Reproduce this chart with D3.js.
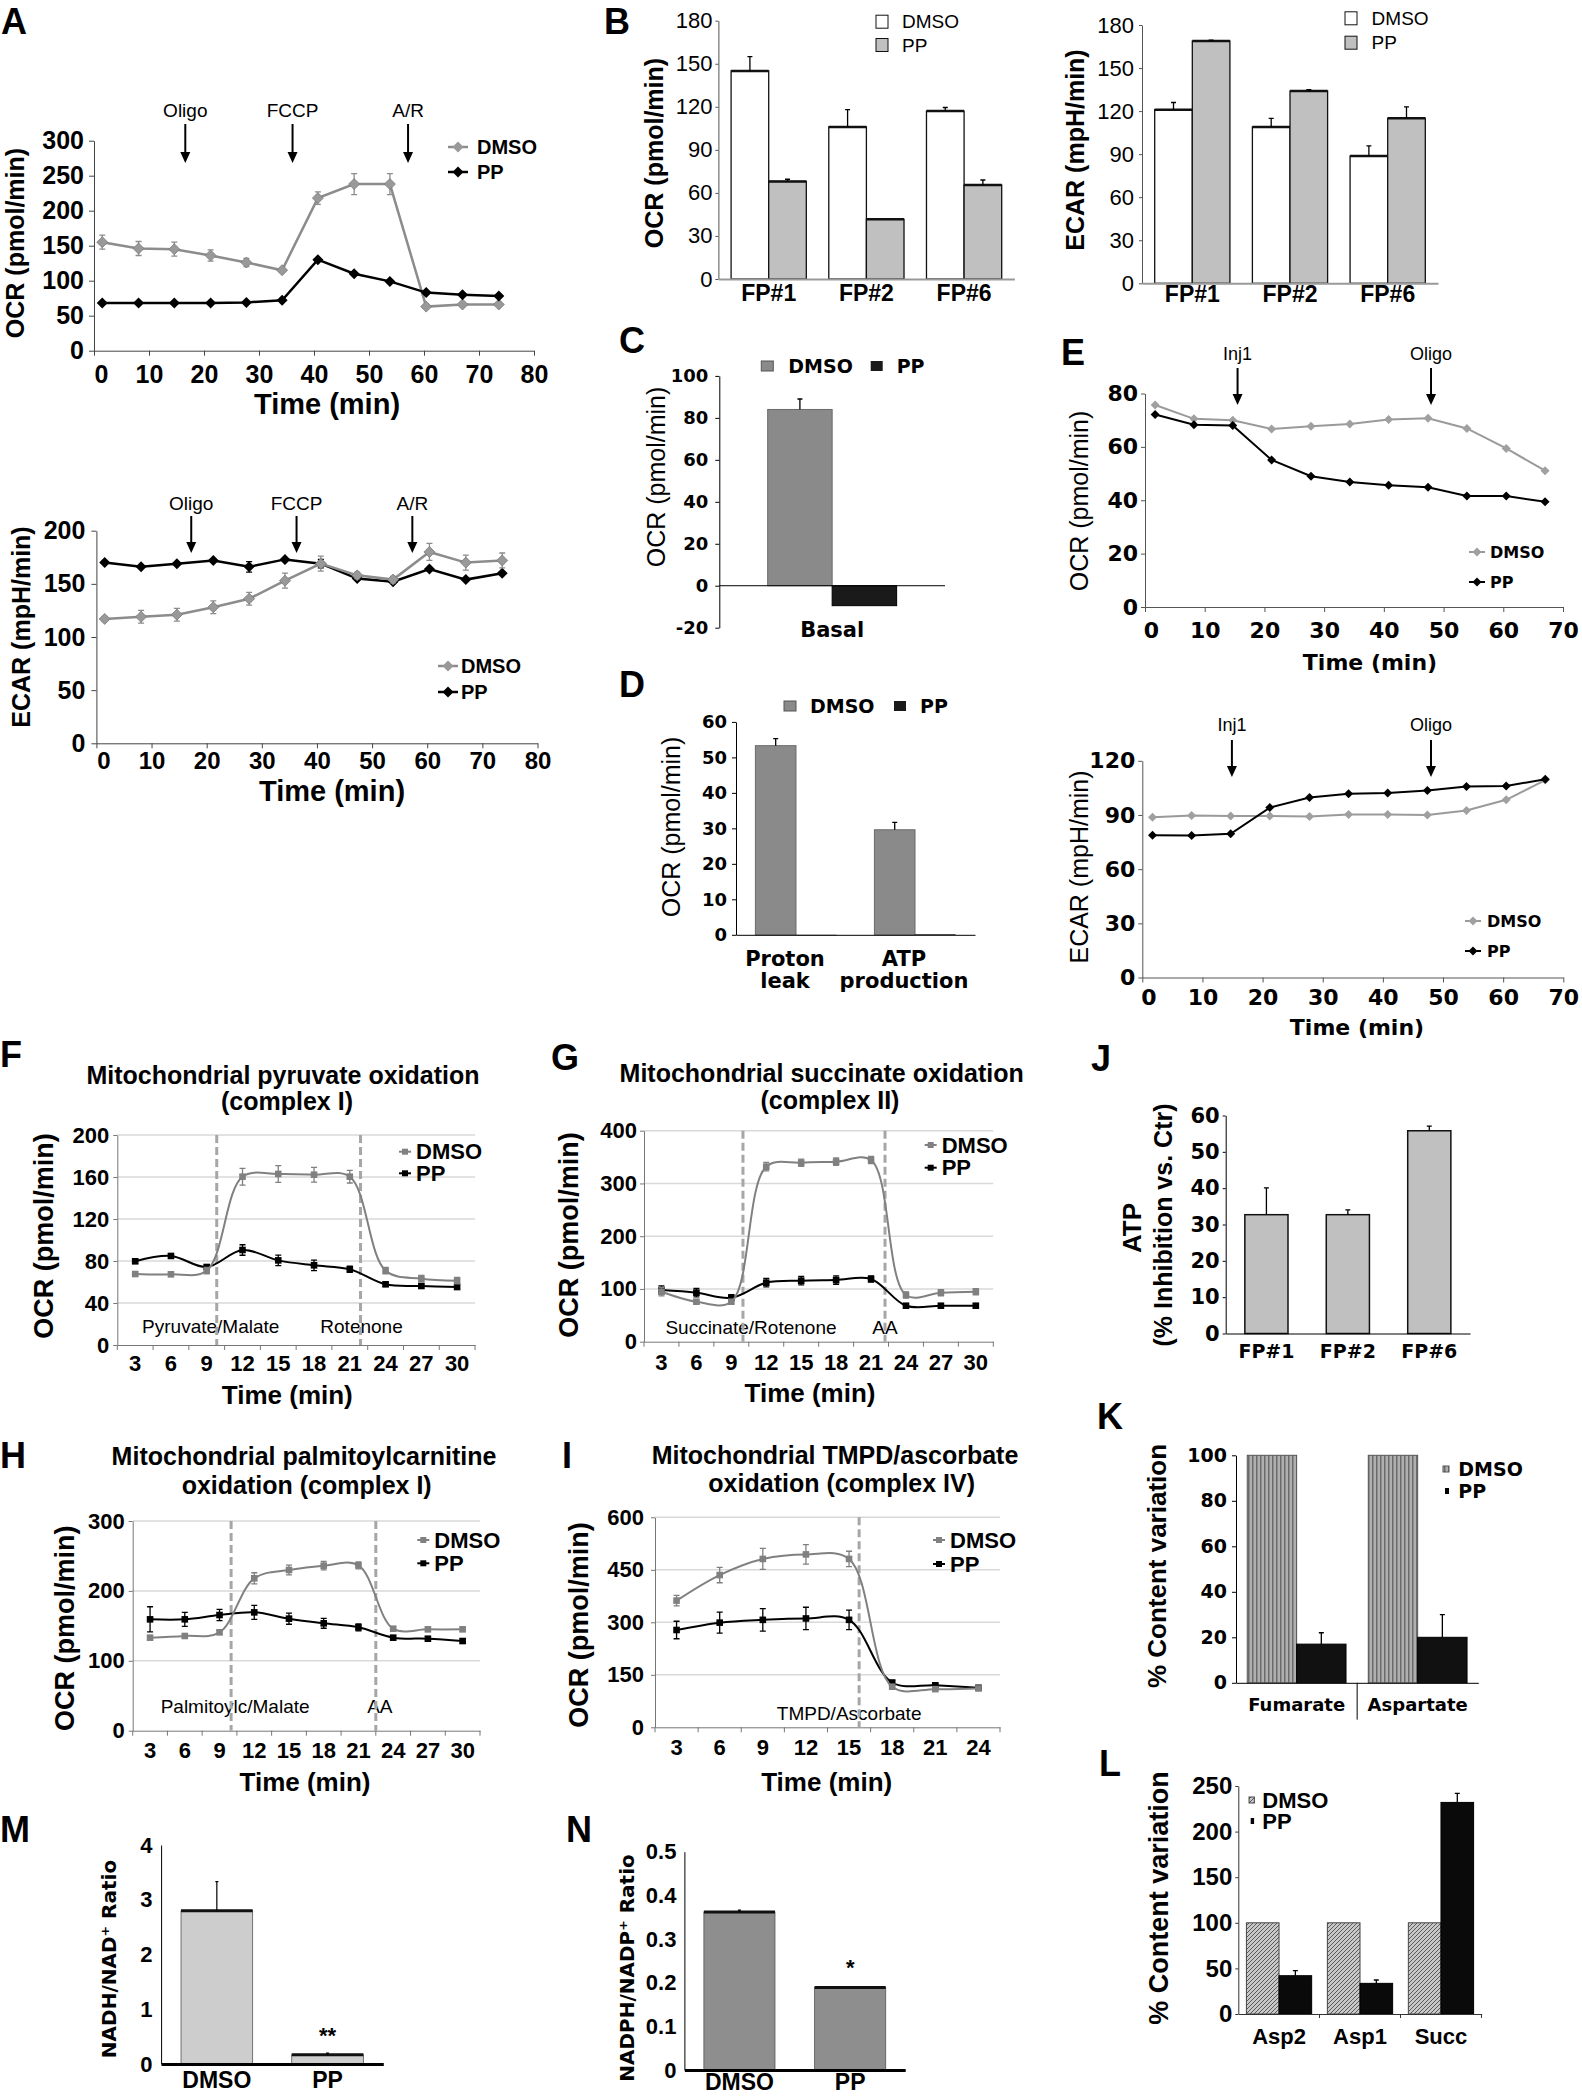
<!DOCTYPE html>
<html><head><meta charset="utf-8">
<script src="https://cdn.jsdelivr.net/npm/d3@7/dist/d3.min.js"></script>
<style>html,body{margin:0;padding:0;background:#fff}svg{display:block}</style>
</head><body>
<script>
// ================= DATA =================
const SERIES = ["DMSO", "PP"];
// Panel A
const A_time = [1.5, 8.1, 14.6, 21.2, 27.7, 34.2, 40.7, 47.3, 53.8, 60.4, 67.0, 73.6];
const A_injections = ["Oligo", "FCCP", "A/R"];
const A_ocr_inj_time = [16.6, 36.1, 57.1];
const A_ecar_inj_time = [17.2, 36.3, 57.3];
const A_ocr_dmso = [155, 146, 145, 136, 126, 115, 218, 238, 238, 63, 66, 66];
const A_ocr_dmso_err = [10, 10, 10, 8, 6, 3, 9, 15, 15, 2, 3, 2];
const A_ocr_pp = [68, 68, 68, 68, 69, 72, 130, 110, 99, 83, 80, 78];
const A_ecar_dmso = [117, 119, 121, 128, 136, 153, 169, 158, 154, 180, 170, 172];
const A_ecar_dmso_err = [2, 6, 6, 6, 6, 7, 7, 3, 3, 8, 7, 7];
const A_ecar_pp = [170, 166, 169, 172, 166, 173, 169, 155, 152, 164, 154, 160];
const A_ecar_pp_err = [0, 0, 0, 0, 5, 0, 4, 0, 0, 0, 0, 0];
// Panel B
const B_categories = ["FP#1", "FP#2", "FP#6"];
const B_ocr_dmso = [145, 106, 117];
const B_ocr_dmso_err = [10, 12, 2.5];
const B_ocr_pp = [68, 41.6, 65.5];
const B_ocr_pp_err = [1.5, 0, 3.5];
const B_ecar_dmso = [121, 109, 88.7];
const B_ecar_dmso_err = [5, 6, 7];
const B_ecar_pp = [168.8, 134, 115];
const B_ecar_pp_err = [0.7, 1, 8];
// Panel C
const C_categories = ["Basal"];
const C_dmso = [84];
const C_dmso_err = [5];
const C_pp = [-9.5];
// Panel D
const D_categories = ["Proton leak", "ATP production"];
const D_dmso = [53.3, 29.6];
const D_dmso_err = [2, 2.1];
const D_pp = [0, 0.2];
// Panel E
const E_time = [1.7, 8.2, 14.7, 21.2, 27.8, 34.3, 40.8, 47.4, 53.9, 60.5, 67.0];
const E_injections = ["Inj1", "Oligo"];
const E_ocr_inj_time = [15.5, 47.9];
const E_ecar_inj_time = [14.9, 48.0];
const E_ocr_dmso = [75.7, 70.5, 70.0, 66.7, 67.7, 68.6, 70.3, 70.7, 66.9, 59.4, 51.1];
const E_ocr_pp = [72.1, 68.3, 68.0, 55.1, 49.0, 46.8, 45.6, 44.9, 41.6, 41.6, 39.4];
const E_ecar_dmso = [88.7, 89.7, 89.5, 89.5, 89.2, 90.3, 90.3, 90.0, 92.5, 98.4, 109.3];
const E_ecar_pp = [78.8, 78.6, 79.6, 94.1, 99.7, 101.7, 102.2, 103.5, 105.8, 106.0, 109.8];
// Panel F
const F_time = ["3", "6", "9", "12", "15", "18", "21", "24", "27", "30"];
const F_dmso = [67.6, 67.3, 70.8, 160.3, 162.9, 162.2, 160.3, 70.8, 63.2, 61.3];
const F_dmso_err = [2, 2, 3, 8, 8, 7, 6, 3, 3, 3];
const F_pp = [79.7, 84.8, 74.3, 90.5, 80.6, 75.9, 72.1, 57.8, 56.2, 55.2];
const F_pp_err = [2, 2, 2, 5, 5, 5, 3, 2, 2, 2];
const F_injections = ["Pyruvate/Malate", "Rotenone"];
const F_inj_time = [9.84, 21.9];
// Panel G
const G_time = ["3", "6", "9", "12", "15", "18", "21", "24", "27", "30"];
const G_dmso = [94.8, 75.8, 75.8, 331.8, 339.3, 341.2, 344.4, 88.5, 92.9, 94.8];
const G_dmso_err = [8, 4, 4, 8, 7, 7, 7, 6, 6, 6];
const G_pp = [97.9, 92.9, 83.4, 111.8, 115.6, 116.9, 118.8, 68.2, 68.2, 68.2];
const G_pp_err = [8, 8, 6, 8, 8, 8, 6, 4, 4, 4];
const G_injections = ["Succinate/Rotenone", "AA"];
const G_inj_time = [10.0, 22.2];
// Panel H
const H_time = ["3", "6", "9", "12", "15", "18", "21", "24", "27", "30"];
const H_dmso = [133.1, 135.5, 140.7, 218, 229.9, 236.1, 236.6, 145.9, 145, 145];
const H_dmso_err = [3, 3, 3, 8, 7, 6, 5, 3, 3, 3];
const H_pp = [159.3, 159.3, 165.5, 169.3, 160.3, 153.6, 147.9, 133.1, 131.6, 128.3];
const H_pp_err = [18, 10, 8, 10, 8, 7, 5, 3, 3, 3];
const H_injections = ["Palmitoylc/Malate", "AA"];
const H_inj_time = [10.0, 22.5];
// Panel I
const I_time = ["3", "6", "9", "12", "15", "18", "21", "24"];
const I_dmso = [362, 435, 481, 494, 481, 116, 109, 111];
const I_dmso_err = [15, 22, 30, 28, 22, 5, 5, 5];
const I_pp = [278, 299, 307, 311, 307, 128, 120, 113];
const I_pp_err = [25, 30, 32, 32, 28, 5, 5, 5];
const I_injections = ["TMPD/Ascorbate"];
const I_inj_time = [15.7];
// Panel J
const J_categories = ["FP#1", "FP#2", "FP#6"];
const J_atp = [32.7, 32.7, 55.8];
const J_atp_err = [7.4, 1.3, 1.3];
// Panel K
const K_categories = ["Fumarate", "Aspartate"];
const K_dmso = [100, 100];
const K_pp = [17, 20];
const K_pp_err = [5, 10];
// Panel L
const L_categories = ["Asp2", "Asp1", "Succ"];
const L_dmso = [100, 100, 100];
const L_pp = [42, 33.6, 232];
const L_pp_err = [5.5, 3.7, 10];
// Panel M
const M_categories = ["DMSO", "PP"];
const M_ratio = [2.80, 0.17];
const M_ratio_err = [0.53, 0.03];
const M_sig = ["", "**"];
// Panel N
const N_categories = ["DMSO", "PP"];
const N_ratio = [0.362, 0.189];
const N_ratio_err = [0.004, 0];
const N_sig = ["", "*"];

// ================= DRAWING =================
const W = 1582, H = 2098;
const AR = "'Liberation Sans', Arial, Helvetica, sans-serif";
const VD = "'DejaVu Sans', Verdana, sans-serif";
const svg = d3.select("body").append("svg").attr("width", W).attr("height", H);
svg.append("rect").attr("width", W).attr("height", H).attr("fill", "#fff");
const defs = svg.append("defs");
const pv = defs.append("pattern").attr("id", "vstripe").attr("width", 4).attr("height", 4).attr("patternUnits", "userSpaceOnUse");
pv.append("rect").attr("width", 4).attr("height", 4).attr("fill", "#b0b0b0");
pv.append("rect").attr("width", 1.5).attr("height", 4).attr("fill", "#6a6a6a");
const ph = defs.append("pattern").attr("id", "hatch").attr("width", 4).attr("height", 4).attr("patternUnits", "userSpaceOnUse");
ph.append("rect").attr("width", 4).attr("height", 4).attr("fill", "#c8c8c8");
ph.append("path").attr("d", "M-1,1l2,-2M0,4l4,-4M3,5l2,-2").attr("stroke", "#5a5a5a").attr("stroke-width", 1);

function T(g, x, y, s, o = {}) {
  const t = g.append("text").attr("x", x).attr("y", y)
    .attr("font-family", o.ff || AR).attr("font-size", o.fs || 20)
    .attr("font-weight", o.fw || "normal").attr("fill", o.fill || "#000")
    .attr("text-anchor", o.anchor || "middle")
    .attr("dy", o.dy === undefined ? "0.35em" : o.dy)
    .text(s);
  if (o.rot) t.attr("transform", `rotate(${o.rot},${x},${y})`);
  return t;
}
function styleAxis(a, o) {
  a.select(".domain").attr("stroke", o.color || "#000").attr("stroke-width", o.sw || 1);
  a.selectAll(".tick line").attr("stroke", o.color || "#000").attr("stroke-width", o.tw || 1);
  a.selectAll(".tick text").attr("font-family", o.ff || AR).attr("font-size", o.fs || 20)
    .attr("font-weight", o.fw || "bold").attr("fill", "#000");
  if (o.zeroDx) a.selectAll(".tick text").filter(d => d === 0).attr("dx", o.zeroDx);
  if (o.noText) a.selectAll(".tick text").remove();
  return a;
}
function axisL(g, y, x0, o) {
  const ax = d3.axisLeft(y).tickValues(o.ticks).tickSize(o.size ?? 4).tickSizeOuter(0).tickPadding(o.pad ?? 4)
    .tickFormat(o.fmt || (d => String(d)));
  return styleAxis(g.append("g").attr("transform", `translate(${x0},0)`).call(ax), o);
}
function axisB(g, x, y0, o) {
  const ax = d3.axisBottom(x).tickSize(o.size ?? 4).tickSizeOuter(0).tickPadding(o.pad ?? 4);
  if (o.ticks) ax.tickValues(o.ticks);
  if (o.fmt) ax.tickFormat(o.fmt);
  return styleAxis(g.append("g").attr("transform", `translate(0,${y0})`).call(ax), o);
}
const diamond = r => `M0,${-r}L${r},0L0,${r}L${-r},0Z`;
const square = r => `M${-r},${-r}h${2 * r}v${2 * r}h${-2 * r}Z`;
function letter(s, x, y) { T(svg, x, y, s, {fs: 36, fw: "bold", anchor: "start", dy: 0}); }
function arrow(g, x, y1, y2) {
  g.append("line").attr("x1", x).attr("x2", x).attr("y1", y1).attr("y2", y2 - 8).attr("stroke", "#000").attr("stroke-width", 2);
  g.append("path").attr("d", `M${x - 5},${y2 - 11}L${x + 5},${y2 - 11}L${x},${y2}Z`).attr("fill", "#000");
}
function series(g, xs, ys, errs, o) {
  const pts = ys.map((v, i) => [xs(i), o.y(v)]);
  if (errs) ys.forEach((v, i) => {
    const e = errs[i]; if (!e) return;
    const cx = xs(i), y1 = o.y(v + e), y2 = o.y(v - e), cw = o.cap || 3;
    g.append("path").attr("d", `M${cx},${y1}V${y2}M${cx - cw},${y1}h${2 * cw}M${cx - cw},${y2}h${2 * cw}`)
      .attr("stroke", o.ecolor || o.color).attr("stroke-width", 1.3).attr("fill", "none");
  });
  const line = d3.line().curve(o.curve || d3.curveLinear);
  g.append("path").attr("d", line(pts)).attr("fill", "none").attr("stroke", o.color).attr("stroke-width", o.sw || 2);
  g.selectAll(null).data(pts).join("path").attr("d", o.shape === "sq" ? square(o.r) : diamond(o.r))
    .attr("transform", d => `translate(${d[0]},${d[1]})`).attr("fill", o.mfill || o.color)
    .attr("stroke", o.mstroke || "none").attr("stroke-width", 0.8);
}
function lineLegend(g, mx, tx, y, label, o) {
  g.append("line").attr("x1", mx - (o.half || 10)).attr("x2", mx + (o.half || 10)).attr("y1", y).attr("y2", y)
    .attr("stroke", o.color).attr("stroke-width", o.sw || 2);
  g.append("path").attr("d", o.shape === "sq" ? square(o.r) : diamond(o.r)).attr("transform", `translate(${mx},${y})`)
    .attr("fill", o.mfill || o.color);
  T(g, tx, y, label, {fs: o.fs, fw: "bold", anchor: "start", ff: o.ff || AR});
}
function boxLegend(g, cx, cy, w, h, fill, stroke, tx, label, o) {
  g.append("rect").attr("x", cx - w / 2).attr("y", cy - h / 2).attr("width", w).attr("height", h)
    .attr("fill", fill).attr("stroke", stroke || "none").attr("stroke-width", 1);
  T(g, tx, cy, label, {fs: o.fs, fw: o.fw || "bold", anchor: "start", ff: o.ff || AR});
}
function bars(g, cfg) {
  const x0 = d3.scaleBand().domain(cfg.cats).range(cfg.xr).paddingInner(cfg.pin).paddingOuter(cfg.pout);
  const x1 = d3.scaleBand().domain(d3.range(cfg.series.length)).range([0, x0.bandwidth()]);
  cfg.series.forEach((s, si) => {
    cfg.cats.forEach((c, ci) => {
      const v = s.vals[ci];
      const bx = x0(c) + x1(si), bw = x1.bandwidth();
      const y0 = cfg.y(0), yv = cfg.y(v);
      g.append("rect").attr("x", bx).attr("y", Math.min(y0, yv)).attr("width", bw).attr("height", Math.max(Math.abs(y0 - yv), 0.5))
        .attr("fill", s.fill).attr("stroke", s.stroke || "none").attr("stroke-width", s.sw || 1);
      if (s.top) g.append("line").attr("x1", bx).attr("x2", bx + bw).attr("y1", yv).attr("y2", yv)
        .attr("stroke", s.top).attr("stroke-width", s.topw || 2.5);
      if (s.err && s.err[ci]) {
        const cx = bx + bw / 2, ye = cfg.y(v + s.err[ci]), cw = s.cap || 2.5;
        g.append("path").attr("d", `M${cx},${yv}V${ye}M${cx - cw},${ye}h${2 * cw}`)
          .attr("stroke", s.ecolor || "#000").attr("stroke-width", s.ew || 1.3).attr("fill", "none");
      }
    });
  });
  return x0;
}

// ---------- Panel A ----------
letter("A", 1, 34);
(function () {
  const g = svg.append("g");
  const x = d3.scaleLinear().domain([0, 80]).range([94, 534]);
  const y = d3.scaleLinear().domain([0, 300]).range([350.7, 140.7]);
  axisL(g, y, 94, {ticks: d3.range(0, 301, 50), size: 5, pad: 5, fs: 25, color: "#444"});
  axisB(g, x, 350.7, {ticks: d3.range(0, 81, 10), size: 5, pad: 10, fs: 25, color: "#444", zeroDx: 7});
  T(g, 15, 243, "OCR (pmol/min)", {fs: 25, fw: "bold", rot: -90});
  T(g, 327, 404, "Time (min)", {fs: 29, fw: "bold"});
  A_ocr_inj_time.forEach((t, i) => { T(g, x(t), 110, A_injections[i], {fs: 19}); arrow(g, x(t), 124, 163); });
  series(g, i => x(A_time[i]), A_ocr_dmso, A_ocr_dmso_err, {y, color: "#8c8c8c", ecolor: "#8c8c8c", sw: 2.5, r: 5.5, mfill: "#999", mstroke: "#7a7a7a"});
  series(g, i => x(A_time[i]), A_ocr_pp, null, {y, color: "#000", sw: 2.5, r: 5.5});
  lineLegend(g, 458, 477, 147, SERIES[0], {color: "#8c8c8c", mfill: "#999", r: 5.5, fs: 20, sw: 2.5});
  lineLegend(g, 458, 477, 172, SERIES[1], {color: "#000", r: 5.5, fs: 20, sw: 2.5});
})();
(function () {
  const g = svg.append("g");
  const x = d3.scaleLinear().domain([0, 80]).range([96.4, 537.5]);
  const y = d3.scaleLinear().domain([0, 200]).range([743.3, 530.7]);
  axisL(g, y, 96.4, {ticks: d3.range(0, 201, 50), size: 5, pad: 6, fs: 25, color: "#444"});
  axisB(g, x, 743.3, {ticks: d3.range(0, 81, 10), size: 5, pad: 4, fs: 24, color: "#444", zeroDx: 7});
  T(g, 21, 627, "ECAR (mpH/min)", {fs: 25, fw: "bold", rot: -90});
  T(g, 332, 791, "Time (min)", {fs: 29, fw: "bold"});
  A_ecar_inj_time.forEach((t, i) => { T(g, x(t), 503, A_injections[i], {fs: 19}); arrow(g, x(t), 516, 553); });
  series(g, i => x(A_time[i]), A_ecar_pp, A_ecar_pp_err, {y, color: "#000", sw: 2.5, r: 5.5});
  series(g, i => x(A_time[i]), A_ecar_dmso, A_ecar_dmso_err, {y, color: "#8c8c8c", sw: 2.5, r: 5.5, mfill: "#999", mstroke: "#7a7a7a"});
  lineLegend(g, 448, 461, 666, SERIES[0], {color: "#8c8c8c", mfill: "#999", r: 5.5, fs: 20, sw: 2.5});
  lineLegend(g, 448, 461, 692, SERIES[1], {color: "#000", r: 5.5, fs: 20, sw: 2.5});
})();

// ---------- Panel B ----------
letter("B", 604, 34);
function panelB(cfg) {
  const g = svg.append("g");
  const y = d3.scaleLinear().domain([0, 180]).range(cfg.yr);
  const x0 = bars(g, {cats: B_categories, xr: cfg.xr, pin: 0.23, pout: 0.13, y, series: [
    {vals: cfg.dmso, err: cfg.dmsoErr, fill: "#fff", stroke: "#111", sw: 1.3, top: "#111", topw: 2.5},
    {vals: cfg.pp, err: cfg.ppErr, fill: "#c0c0c0", stroke: "#111", sw: 1.3, top: "#111", topw: 2.5}]});
  axisL(g, y, cfg.xr[0], {ticks: d3.range(0, 181, 30), size: 3, pad: cfg.pad, fs: 22, fw: "normal", color: "#555"});
  axisB(g, x0, cfg.yr[0], {size: 0, pad: cfg.xpad, fs: 23, fw: "bold", color: "#999", sw: 2});
  T(g, cfg.ylx, cfg.yly, cfg.ylab, {fs: 25, fw: "bold", rot: -90});
  boxLegend(g, cfg.lbx, cfg.ly[0], 12, 13, "#fff", "#111", cfg.ltx, SERIES[0], {fs: 19, fw: "normal"});
  boxLegend(g, cfg.lbx, cfg.ly[1], 12, 13, "#c0c0c0", "#111", cfg.ltx, SERIES[1], {fs: 19, fw: "normal"});
}
panelB({xr: [718.4, 1014.4], yr: [279, 20.7], dmso: B_ocr_dmso, dmsoErr: B_ocr_dmso_err, pp: B_ocr_pp, ppErr: B_ocr_pp_err,
  pad: 3, xpad: 6, ylab: "OCR (pmol/min)", ylx: 654.5, yly: 153, lbx: 882, ltx: 902, ly: [21.7, 45]});
panelB({xr: [1142, 1438], yr: [283.3, 25], dmso: B_ecar_dmso, dmsoErr: B_ecar_dmso_err, pp: B_ecar_pp, ppErr: B_ecar_pp_err,
  pad: 5, xpad: 2, ylab: "ECAR (mpH/min)", ylx: 1075, yly: 150, lbx: 1351, ltx: 1371.6, ly: [18.3, 42.7]});

// ---------- Panel C ----------
letter("C", 619, 353);
(function () {
  const g = svg.append("g");
  const y = d3.scaleLinear().domain([-20, 100]).range([627.7, 375.9]);
  const x0 = bars(g, {cats: C_categories, xr: [719.3, 945], pin: 0, pout: 0.375, y, series: [
    {vals: C_dmso, err: C_dmso_err, fill: "#8a8a8a", stroke: "#6a6a6a", sw: 1},
    {vals: C_pp, fill: "#1a1a1a", stroke: "#000", sw: 1}]});
  axisL(g, y, 719.3, {ticks: d3.range(-20, 101, 20), size: 4, pad: 7, ff: VD, fs: 18, color: "#000"});
  g.append("line").attr("x1", 719.3).attr("x2", 945).attr("y1", y(0)).attr("y2", y(0)).attr("stroke", "#000");
  T(g, x0("Basal") + x0.bandwidth() / 2, 629.5, C_categories[0], {ff: VD, fs: 21, fw: "bold"});
  T(g, 656.7, 477, "OCR (pmol/min)", {fs: 25, rot: -90});
  boxLegend(g, 767.3, 366, 12, 10, "#8a8a8a", "#555", 788.3, SERIES[0], {ff: VD, fs: 19});
  boxLegend(g, 876.7, 366, 12, 10, "#1a1a1a", null, 896.7, SERIES[1], {ff: VD, fs: 19});
})();

// ---------- Panel D ----------
letter("D", 619, 697);
(function () {
  const g = svg.append("g");
  const y = d3.scaleLinear().domain([0, 60]).range([934.8, 721.9]);
  const x0 = bars(g, {cats: D_categories, xr: [736, 975], pin: 0.318, pout: 0.163, y, series: [
    {vals: D_dmso, err: D_dmso_err, fill: "#8a8a8a", stroke: "#6a6a6a", sw: 1},
    {vals: D_pp, fill: "#1a1a1a", stroke: "none"}]});
  axisL(g, y, 736, {ticks: d3.range(0, 61, 10), size: 4, pad: 5, ff: VD, fs: 18, color: "#000"});
  axisB(g, x0, 934.8, {size: 0, noText: true, color: "#000"});
  const lines = [["Proton", "leak"], ["ATP", "production"]];
  D_categories.forEach((c, i) => {
    const cx = x0(c) + x0.bandwidth() / 2 - 11;
    T(g, cx, 958.5, lines[i][0], {ff: VD, fs: 21, fw: "bold"});
    T(g, cx, 980.8, lines[i][1], {ff: VD, fs: 21, fw: "bold"});
  });
  T(g, 671.7, 827, "OCR (pmol/min)", {fs: 25, rot: -90});
  boxLegend(g, 790, 706, 12, 10, "#8a8a8a", "#555", 810, SERIES[0], {ff: VD, fs: 19});
  boxLegend(g, 900, 706, 12, 10, "#1a1a1a", null, 920, SERIES[1], {ff: VD, fs: 19});
})();

// ---------- Panel E ----------
letter("E", 1061, 365);
function panelE(cfg) {
  const g = svg.append("g");
  const x = d3.scaleLinear().domain([0, 70]).range(cfg.xr);
  const y = d3.scaleLinear().domain([0, cfg.ymax]).range(cfg.yr);
  axisL(g, y, cfg.xr[0], {ticks: d3.range(0, cfg.ymax + 1, cfg.step), size: 4, pad: 3, ff: VD, fs: 22, color: "#555"});
  axisB(g, x, cfg.yr[0], {ticks: d3.range(0, 71, 10), size: 5, pad: cfg.xpad, ff: VD, fs: 22, color: "#555", zeroDx: 6});
  T(g, 1079, cfg.yly, cfg.ylab, {fs: 25, rot: -90});
  T(g, cfg.tx, cfg.ty, "Time (min)", {ff: VD, fs: 22, fw: "bold"});
  cfg.inj.forEach((t, i) => { T(g, x(t), cfg.iy[0], E_injections[i], {fs: 18}); arrow(g, x(t), cfg.iy[1], cfg.iy[2]); });
  series(g, i => x(E_time[i]), cfg.dmso, null, {y, color: "#9a9a9a", sw: 2, r: 4.5, mfill: "#a0a0a0"});
  series(g, i => x(E_time[i]), cfg.pp, null, {y, color: "#000", sw: 2, r: 4.5});
  lineLegend(g, cfg.lmx, cfg.ltx, cfg.ly[0], SERIES[0], {color: "#9a9a9a", mfill: "#a0a0a0", r: 4.5, fs: 16, ff: VD, half: 8});
  lineLegend(g, cfg.lmx, cfg.ltx, cfg.ly[1], SERIES[1], {color: "#000", r: 4.5, fs: 16, ff: VD, half: 8});
}
panelE({xr: [1145, 1563], yr: [607, 393.5], ymax: 80, step: 20, xpad: 10, dmso: E_ocr_dmso, pp: E_ocr_pp,
  ylab: "OCR (pmol/min)", yly: 501, tx: 1370, ty: 662, inj: E_ocr_inj_time, iy: [354, 368, 405],
  lmx: 1477, ltx: 1490, ly: [552, 582]});
panelE({xr: [1142.3, 1563.3], yr: [977.5, 760.8], ymax: 120, step: 30, xpad: 7, dmso: E_ecar_dmso, pp: E_ecar_pp,
  ylab: "ECAR (mpH/min)", yly: 867, tx: 1357, ty: 1027, inj: E_ecar_inj_time, iy: [725, 740, 777],
  lmx: 1473, ltx: 1487, ly: [921, 951]});

// ---------- Panels F, G, H, I ----------
function mito(cfg) {
  const g = svg.append("g");
  const x = d3.scaleBand().domain(cfg.cats).range(cfg.xr).padding(0);
  const cx = i => x(cfg.cats[i]) + x.bandwidth() / 2;
  const tx = t => cfg.xr[0] + x.step() * ((t - (+cfg.cats[0])) / 3 + 0.5);
  const y = d3.scaleLinear().domain([0, cfg.ymax]).range(cfg.yr);
  g.selectAll(null).data(cfg.ticks.filter(t => t > 0)).join("line")
    .attr("x1", cfg.xr[0]).attr("x2", cfg.xr[1]).attr("y1", d => y(d)).attr("y2", d => y(d))
    .attr("stroke", "#d9d9d9").attr("stroke-width", 1.5);
  axisL(g, y, cfg.xr[0], {ticks: cfg.ticks, size: 4, pad: cfg.ypad, fs: 22, color: "#777"});
  axisB(g, x, cfg.yr[0], {size: 0, pad: cfg.xpad, fs: 22, color: "#777"});
  g.selectAll(null).data(d3.range(cfg.cats.length + 1)).join("line")
    .attr("x1", i => cfg.xr[0] + i * x.step()).attr("x2", i => cfg.xr[0] + i * x.step())
    .attr("y1", cfg.yr[0]).attr("y2", cfg.yr[0] + 5).attr("stroke", "#777");
  cfg.injLabels.forEach((s, i) => T(g, tx(cfg.inj[i]) + cfg.labDx[i], y(cfg.labY), s, {fs: 19}));
  cfg.inj.forEach(t => g.append("line").attr("x1", tx(t)).attr("x2", tx(t)).attr("y1", cfg.yr[1]).attr("y2", cfg.yr[0])
    .attr("stroke", "#a6a6a6").attr("stroke-width", 3).attr("stroke-dasharray", "8,4"));
  const curve = d3.curveCatmullRom.alpha(0.5);
  series(g, cx, cfg.pp, cfg.ppErr, {y, color: "#000", sw: 2, r: 3.3, shape: "sq", curve});
  series(g, cx, cfg.dmso, cfg.dmsoErr, {y, color: "#808080", sw: 2, r: 3.3, shape: "sq", curve});
  lineLegend(g, cfg.lx - 11, cfg.lx, cfg.ly[0], SERIES[0], {color: "#808080", r: 3, shape: "sq", fs: 22, half: 6});
  lineLegend(g, cfg.lx - 11, cfg.lx, cfg.ly[1], SERIES[1], {color: "#000", r: 3, shape: "sq", fs: 22, half: 6});
  T(g, cfg.title.x[0], cfg.title.y[0], cfg.title.t[0], {fs: 25, fw: "bold"});
  T(g, cfg.title.x[1], cfg.title.y[1], cfg.title.t[1], {fs: 25, fw: "bold"});
  T(g, cfg.yl[0], cfg.yl[1], "OCR (pmol/min)", {fs: 27, fw: "bold", rot: -90});
  T(g, cfg.xl[0], cfg.xl[1], "Time (min)", {fs: 26, fw: "bold"});
  letter(cfg.letter[0], cfg.letter[1], cfg.letter[2]);
}
mito({cats: F_time, xr: [117.3, 475], yr: [1345, 1135], ymax: 200, ticks: d3.range(0, 201, 40), ypad: 4, xpad: 10.6,
  dmso: F_dmso, dmsoErr: F_dmso_err, pp: F_pp, ppErr: F_pp_err, inj: F_inj_time, injLabels: F_injections, labY: 18, labDx: [-6, 1],
  title: {t: ["Mitochondrial pyruvate oxidation", "(complex I)"], x: [283, 287], y: [1075, 1101.7]},
  yl: [43.3, 1236], xl: [287.3, 1395], lx: 416, ly: [1151.7, 1173.3], letter: ["F", 0, 1067]});
mito({cats: G_time, xr: [644, 993.3], yr: [1341.7, 1130.7], ymax: 400, ticks: d3.range(0, 401, 100), ypad: 3, xpad: 12.3,
  dmso: G_dmso, dmsoErr: G_dmso_err, pp: G_pp, ppErr: G_pp_err, inj: G_inj_time, injLabels: G_injections, labY: 28, labDx: [8, 0],
  title: {t: ["Mitochondrial succinate oxidation", "(complex II)"], x: [821.7, 830], y: [1073.3, 1100]},
  yl: [568.3, 1235], xl: [810, 1392.7], lx: 941.7, ly: [1145, 1167.7], letter: ["G", 551, 1070]});
mito({cats: H_time, xr: [132.7, 480], yr: [1730.7, 1521], ymax: 300, ticks: d3.range(0, 301, 100), ypad: 4, xpad: 11.6,
  dmso: H_dmso, dmsoErr: H_dmso_err, pp: H_pp, ppErr: H_pp_err, inj: H_inj_time, injLabels: H_injections, labY: 35, labDx: [4, 4],
  title: {t: ["Mitochondrial palmitoylcarnitine", "oxidation (complex I)"], x: [304, 306.7], y: [1456.7, 1485]},
  yl: [65, 1628.3], xl: [305, 1781.7], lx: 434.3, ly: [1540, 1563.3], letter: ["H", 0, 1468]});
mito({cats: I_time, xr: [655, 1000], yr: [1727.3, 1517.3], ymax: 600, ticks: d3.range(0, 601, 150), ypad: 7, xpad: 12.3,
  dmso: I_dmso, dmsoErr: I_dmso_err, pp: I_pp, ppErr: I_pp_err, inj: I_inj_time, injLabels: I_injections, labY: 40, labDx: [-10],
  title: {t: ["Mitochondrial TMPD/ascorbate", "oxidation (complex IV)"], x: [835, 841.7], y: [1455, 1483.3]},
  yl: [578.3, 1625], xl: [826.7, 1781.7], lx: 950, ly: [1540, 1564], letter: ["I", 562, 1468]});

// ---------- Panel J ----------
letter("J", 1091, 1071);
(function () {
  const g = svg.append("g");
  const y = d3.scaleLinear().domain([0, 60]).range([1333.5, 1115.5]);
  const x0 = bars(g, {cats: J_categories, xr: [1225.7, 1470], pin: 0.47, pout: 0.235, y, series: [
    {vals: J_atp, err: J_atp_err, fill: "#c0c0c0", stroke: "#111", sw: 1.5}]});
  axisL(g, y, 1225.7, {ticks: d3.range(0, 61, 10), size: 3, pad: 3, ff: VD, fs: 21, color: "#000"});
  axisB(g, x0, 1333.5, {size: 0, pad: 11.3, ff: VD, fs: 19, color: "#000"});
  T(g, 1131.7, 1228, "ATP", {fs: 26, fw: "bold", rot: -90});
  T(g, 1163.3, 1225, "(% Inhibition vs. Ctr)", {fs: 25, fw: "bold", rot: -90});
})();

// ---------- Panel K ----------
letter("K", 1097, 1429);
(function () {
  const g = svg.append("g");
  const y = d3.scaleLinear().domain([0, 100]).range([1682.8, 1455.3]);
  const x0 = bars(g, {cats: K_categories, xr: [1236, 1478.3], pin: 0.184, pout: 0.093, y, series: [
    {vals: K_dmso, fill: "url(#vstripe)", stroke: "#555", sw: 1},
    {vals: K_pp, err: K_pp_err, fill: "#111", stroke: "#000", sw: 1}]});
  axisL(g, y, 1236, {ticks: d3.range(0, 101, 20), size: 4, pad: 5, ff: VD, fs: 19, color: "#000"});
  axisB(g, x0, 1682.8, {size: 0, pad: 15.4, ff: VD, fs: 18, color: "#000"});
  const sep = x0(K_categories[1]) - x0.step() * x0.paddingInner() / 2;
  g.append("line").attr("x1", sep).attr("x2", sep).attr("y1", 1682.8).attr("y2", 1719.6).attr("stroke", "#000");
  T(g, 1156.7, 1566, "% Content variation", {fs: 26, fw: "bold", rot: -90});
  boxLegend(g, 1446, 1469, 6, 6, "url(#vstripe)", "#555", 1458.3, SERIES[0], {ff: VD, fs: 19});
  boxLegend(g, 1447, 1491, 4, 6, "#000", null, 1458.3, SERIES[1], {ff: VD, fs: 19});
})();

// ---------- Panel L ----------
letter("L", 1099, 1776);
(function () {
  const g = svg.append("g");
  const y = d3.scaleLinear().domain([0, 250]).range([2014, 1786]);
  const x0 = bars(g, {cats: L_categories, xr: [1238.3, 1481.7], pin: 0.194, pout: 0.1, y, series: [
    {vals: L_dmso, fill: "url(#hatch)", stroke: "#444", sw: 1},
    {vals: L_pp, err: L_pp_err, fill: "#0a0a0a", stroke: "#000", sw: 1}]});
  axisL(g, y, 1238.3, {ticks: d3.range(0, 251, 50), size: 3, pad: 3, fs: 24, color: "#333"});
  axisB(g, x0, 2014, {size: 0, pad: 14.3, fs: 22, color: "#333"});
  [1, 2, 3].forEach(i => {
    const bx = x0(L_categories[0]) - x0.step() * x0.paddingInner() / 2 + i * x0.step();
    g.append("line").attr("x1", bx).attr("x2", bx).attr("y1", 2014).attr("y2", 2018).attr("stroke", "#333");
  });
  T(g, 1158.3, 1898, "% Content variation", {fs: 27, fw: "bold", rot: -90});
  boxLegend(g, 1251.7, 1800, 5.3, 6, "url(#hatch)", "#444", 1262.3, SERIES[0], {fs: 22});
  boxLegend(g, 1252.4, 1821, 3.4, 6, "#000", null, 1262.3, SERIES[1], {fs: 22});
})();

// ---------- Panels M, N ----------
function ratioPanel(cfg) {
  const g = svg.append("g");
  const y = d3.scaleLinear().domain([0, cfg.ymax]).range(cfg.yr);
  const x0 = bars(g, {cats: cfg.cats, xr: cfg.xr, pin: cfg.pin, pout: cfg.pout, y, series: [
    {vals: cfg.vals, err: cfg.err, fill: cfg.fill, stroke: "#555", sw: 0.8, top: "#111", topw: 3, cap: 1.5, ew: 1.2}]});
  axisL(g, y, cfg.xr[0], {ticks: cfg.ticks, size: 0, pad: cfg.ypad, fs: 22, color: "#000", fmt: cfg.fmt});
  axisB(g, x0, cfg.yr[0], {size: 0, pad: cfg.xpad, fs: cfg.xfs, color: "#000", sw: 3});
  cfg.sig.forEach((s, i) => {
    if (!s) return;
    T(g, x0(cfg.cats[i]) + x0.bandwidth() / 2, y(cfg.vals[i]) - 12, s, {fs: 22, fw: "bold", dy: 0});
  });
  T(g, cfg.yl[0], cfg.yl[1], cfg.ylab, {ff: VD, fs: 20, fw: "bold", rot: -90});
}
letter("M", 0, 1842);
ratioPanel({cats: M_categories, vals: M_ratio, err: M_ratio_err, sig: M_sig, ymax: 4, yr: [2064, 1845], xr: [161.1, 383.3],
  pin: 0.353, pout: 0.18, fill: "#cdcdcd", ticks: [0, 1, 2, 3, 4], ypad: 8.6, xpad: 8, xfs: 23, fmt: d => String(d),
  ylab: "NADH/NAD\u207A Ratio", yl: [109.4, 1959]});
letter("N", 566, 1842);
ratioPanel({cats: N_categories, vals: N_ratio, err: N_ratio_err, sig: N_sig, ymax: 0.5, yr: [2070, 1851.7], xr: [684.4, 905.2],
  pin: 0.358, pout: 0.176, fill: "#8e8e8e", ticks: [0, 0.1, 0.2, 0.3, 0.4, 0.5], ypad: 8, xpad: 4, xfs: 23,
  fmt: d => d === 0 ? "0" : d.toFixed(1), ylab: "NADPH/NADP\u207A Ratio", yl: [626.7, 1968]});
</script>
</body></html>
